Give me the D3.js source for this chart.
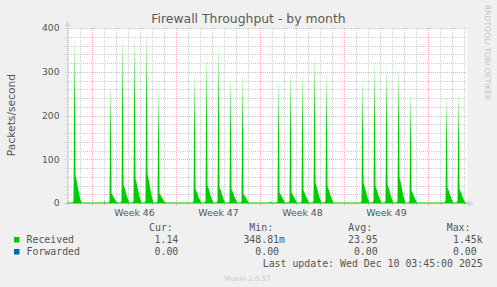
<!DOCTYPE html>
<html lang="en">
<head>
<meta charset="UTF-8">
<title>Firewall Throughput - by month</title>
<script src="https://d3js.org/d3.v7.min.js"></script>
<style>
  body { margin: 0; background: #f0f0f0; }
  svg { display: block; }
  text { font-family: "DejaVu Sans", sans-serif; fill: #555; }
  .mono { font-family: "DejaVu Sans Mono", monospace; font-size: 9.9px; white-space: pre; }
</style>
</head>
<body>
<svg width="497" height="287"></svg>
<script>
// ---- data ----
var yTicks = [0, 100, 200, 300, 400];
var weekLabels = ["Week 46", "Week 47", "Week 48", "Week 49"];

// received packets/s, one sample every 2 hours from the given start time
var receivedStarts = [
  "2025-11-06T21:00Z", "2025-11-07T08:00Z", "2025-11-09T22:00Z",
  "2025-11-10T08:00Z", "2025-11-11T08:00Z", "2025-11-12T08:00Z", "2025-11-13T08:00Z", "2025-11-14T08:00Z",
  "2025-11-17T08:00Z", "2025-11-18T08:00Z", "2025-11-19T08:00Z", "2025-11-20T08:00Z", "2025-11-21T08:00Z",
  "2025-11-23T18:00Z",
  "2025-11-24T08:00Z", "2025-11-25T08:00Z", "2025-11-26T08:00Z", "2025-11-27T08:00Z", "2025-11-28T08:00Z",
  "2025-12-01T08:00Z", "2025-12-02T08:00Z", "2025-12-03T08:00Z", "2025-12-04T08:00Z", "2025-12-05T08:00Z",
  "2025-12-08T08:00Z", "2025-12-09T08:00Z", "2025-12-10T02:00Z"
];
var receivedValues = [
  [5, 4, 1],
  [1, 5, 380, 62, 53, 40, 28, 17, 7, 1],
  [1, 4, 1],
  [1, 4, 275, 22, 19, 14, 10, 6, 3, 1],
  [1, 5, 385, 42, 36, 27, 19, 12, 5, 1],
  [1, 5, 385, 55, 47, 36, 25, 15, 7, 1],
  [1, 6, 395, 66, 56, 43, 30, 18, 8, 1],
  [1, 4, 265, 22, 19, 14, 10, 6, 3, 1],
  [1, 4, 300, 32, 27, 21, 14, 9, 4, 1],
  [1, 5, 340, 40, 34, 26, 18, 11, 5, 1],
  [1, 5, 365, 36, 31, 23, 16, 10, 4, 1],
  [1, 4, 290, 32, 27, 21, 14, 9, 4, 1],
  [1, 4, 298, 20, 17, 13, 9, 6, 2, 1],
  [1, 4, 1],
  [1, 4, 285, 24, 20, 16, 11, 7, 3, 1],
  [1, 4, 305, 24, 20, 16, 11, 7, 3, 1],
  [1, 4, 300, 28, 24, 18, 13, 8, 3, 1],
  [1, 5, 340, 46, 39, 30, 21, 13, 6, 1],
  [1, 5, 300, 38, 32, 25, 17, 11, 5, 1],
  [1, 5, 285, 46, 39, 30, 21, 13, 6, 1],
  [1, 5, 325, 38, 32, 25, 17, 11, 5, 1],
  [1, 5, 318, 42, 36, 27, 19, 12, 5, 1],
  [1, 6, 310, 58, 49, 38, 26, 16, 7, 1],
  [1, 4, 258, 28, 24, 18, 13, 8, 3, 1],
  [1, 5, 245, 35, 30, 23, 16, 10, 4, 1],
  [1, 5, 255, 32, 27, 21, 14, 9, 4, 1],
  [1, 1, 1.14]
];
var forwardedValues = [0, 0];

var legendNames = ["Received", "Forwarded"];
var legendColors = ["#00cc00", "#0066b3"];
var legendHeads = ["Cur:", "Min:", "Avg:", "Max:"];
var legendCur = ["1.14", "0.00"];
var legendMin = ["348.81m", "0.00 "];
var legendAvg = ["23.95", "0.00"];
var legendMax = ["1.45k", "0.00 "];

// ---- layout ----
var svg = d3.select("svg");
var pLeft = 67, pRight = 467, pTop = 28, pBottom = 203;
var start = new Date("2025-11-06T21:00Z");
var end = new Date("2025-12-10T05:00Z");

var x = d3.scaleUtc().domain([start, end]).range([pLeft, pRight]);
var y = d3.scaleLinear().domain([0, 400]).range([pBottom, pTop]);

svg.append("rect").attr("width", 497).attr("height", 287).attr("fill", "#f0f0f0");
svg.append("rect").attr("x", pLeft).attr("y", pTop).attr("width", pRight - pLeft).attr("height", pBottom - pTop).attr("fill", "#fff");

var crisp = function(v) { return Math.round(v) + 0.5; };

// minor grid
var grid = svg.append("g");
grid.selectAll(".hmin").data(d3.range(20, 400, 20).filter(function(v) { return v % 100; }))
  .enter().append("line")
  .attr("x1", pLeft - 2).attr("x2", pRight)
  .attr("y1", function(d) { return crisp(y(d)); }).attr("y2", function(d) { return crisp(y(d)); })
  .attr("stroke", "#cccccc").attr("stroke-dasharray", "1,1");
var days = d3.utcDay.range(d3.utcDay.ceil(start), end).filter(function(d) { return d.getUTCDay() != 0; });
grid.selectAll(".vmin").data(days)
  .enter().append("line")
  .attr("x1", function(d) { return Math.floor(x(d)) + 0.5; }).attr("x2", function(d) { return Math.floor(x(d)) + 0.5; })
  .attr("y1", pTop).attr("y2", pBottom + 2)
  .attr("stroke", "#cccccc").attr("stroke-dasharray", "1,1");

// major grid
grid.selectAll(".hmaj").data(yTicks)
  .enter().append("line")
  .attr("x1", pLeft - 2).attr("x2", pRight)
  .attr("y1", function(d) { return crisp(y(d)); }).attr("y2", function(d) { return crisp(y(d)); })
  .attr("stroke", "#f0acac").attr("stroke-dasharray", "1,1");
var weeks = d3.utcSunday.range(start, end);
grid.selectAll(".vmaj").data(weeks)
  .enter().append("line")
  .attr("x1", function(d) { return Math.floor(x(d)) + 0.5; }).attr("x2", function(d) { return Math.floor(x(d)) + 0.5; })
  .attr("y1", pTop).attr("y2", pBottom + 2)
  .attr("stroke", "#f0acac").attr("stroke-dasharray", "1,1");

// received area
var points = [];
receivedStarts.forEach(function(s, i) {
  var t0 = new Date(s);
  receivedValues[i].forEach(function(v, j) {
    points.push([d3.utcHour.offset(t0, 2 * j), v]);
  });
});

svg.append("clipPath").attr("id", "plot")
  .append("rect").attr("x", pLeft).attr("y", pTop - 5).attr("width", pRight - pLeft).attr("height", pBottom - pTop + 5);

var area = d3.area()
  .x(function(d) { return x(d[0]); })
  .y0(y(0))
  .y1(function(d) { return y(d[1]); });

svg.append("path").datum(points)
  .attr("clip-path", "url(#plot)")
  .attr("fill", "#00cc00")
  .attr("d", area);

// forwarded (flat zero)
svg.append("path").datum([[start, forwardedValues[0]], [end, forwardedValues[1]]])
  .attr("fill", "#0066b3")
  .attr("d", area);

// axes
svg.append("line").attr("x1", pLeft - 2).attr("x2", pRight + 2).attr("y1", pBottom + 0.5).attr("y2", pBottom + 0.5)
  .attr("stroke", "#a4aedc");
svg.append("line").attr("x1", pLeft + 0.5).attr("x2", pLeft + 0.5).attr("y1", pTop - 6).attr("y2", pBottom + 2)
  .attr("stroke", "#cdd4f4");
svg.append("path").attr("d", "M" + (pRight + 7) + "," + (pBottom + 0.5) + "L" + (pRight + 1.5) + "," + (pBottom - 2.5) + "L" + (pRight + 1.5) + "," + (pBottom + 3.5) + "Z")
  .attr("fill", "#cdd4f4");
svg.append("path").attr("d", "M" + (pLeft + 0.5) + "," + (pTop - 7) + "L" + (pLeft - 2.5) + "," + (pTop - 1.5) + "L" + (pLeft + 3.5) + "," + (pTop - 1.5) + "Z")
  .attr("fill", "#cdd4f4");

// tick labels
svg.selectAll(".ylab").data(yTicks).enter().append("text")
  .attr("x", 59.5).attr("y", function(d) { return y(d) + 3.3; })
  .attr("text-anchor", "end").attr("font-size", "9.2px")
  .text(function(d) { return d; });

svg.selectAll(".xlab").data(weekLabels).enter().append("text")
  .attr("x", function(d, i) { return x(d3.utcHour.offset(weeks[i], 84)); })
  .attr("y", 216)
  .attr("text-anchor", "middle").attr("font-size", "9.4px")
  .text(function(d) { return d; });

// titles
svg.append("text").attr("x", 248.5).attr("y", 23).attr("text-anchor", "middle")
  .attr("font-size", "12.4px").style("fill", "#5a5a5a").text("Firewall Throughput - by month");
svg.append("text").attr("transform", "translate(15,115) rotate(-90)").attr("text-anchor", "middle")
  .attr("font-size", "10.7px").text("Packets/second");
svg.append("text").attr("transform", "translate(485,5) rotate(90)")
  .attr("font-size", "7.6px").style("fill", "#c4c4c4").text("RRDTOOL/ TOBI OETIKER");

// legend
var colX = [149, 249.3, 348.3, 446.7];
var colEnd = [178.3, 285, 377.7, 482.7];
svg.selectAll(".head").data(legendHeads).enter().append("text")
  .attr("class", "mono").attr("x", function(d, i) { return colX[i]; }).attr("y", 231)
  .text(function(d) { return d; });

var rowY = [243, 255];
legendNames.forEach(function(name, i) {
  svg.append("rect").attr("x", 14).attr("y", rowY[i] - 6).attr("width", 5.5).attr("height", 5.5)
    .attr("fill", legendColors[i]);
  svg.append("text").attr("class", "mono").attr("x", 26.5).attr("y", rowY[i]).text(name);
  [legendCur[i], legendMin[i], legendAvg[i], legendMax[i]].forEach(function(v, j) {
    svg.append("text").attr("class", "mono").attr("x", colEnd[j]).attr("y", rowY[i])
      .attr("text-anchor", "end").text(v);
  });
});

svg.append("text").attr("class", "mono").attr("x", 482.7).attr("y", 267).attr("text-anchor", "end")
  .text("Last update: Wed Dec 10 03:45:00 2025");
svg.append("text").attr("x", 247.5).attr("y", 280.5).attr("text-anchor", "middle")
  .attr("font-size", "7.1px").style("fill", "#c8c8c8").text("Munin 2.0.57");
</script>
</body>
</html>
